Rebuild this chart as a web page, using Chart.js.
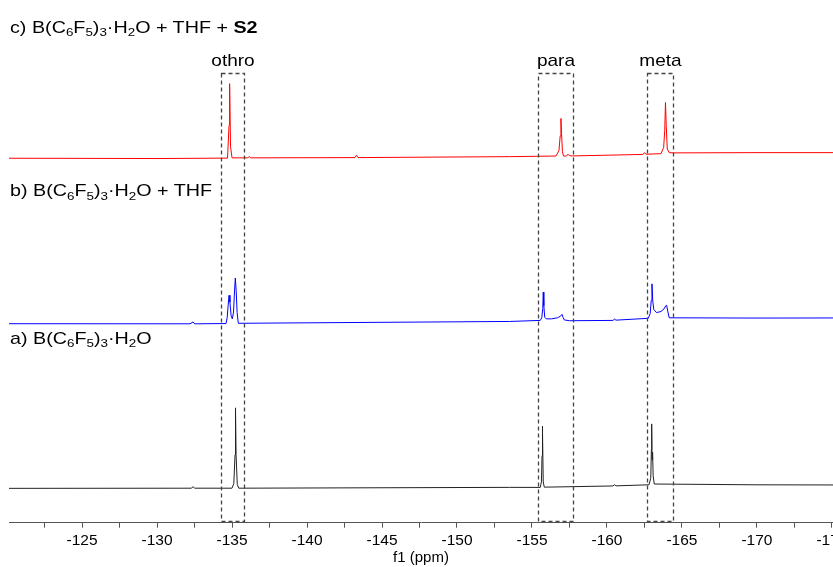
<!DOCTYPE html>
<html>
<head>
<meta charset="utf-8">
<script src="https://cdn.jsdelivr.net/npm/chart.js@4"></script>
<style>
  body { margin: 0; background: #fff; overflow: hidden; }
  #wrap { position: relative; width: 833px; height: 567px; }
  .lbl {
    position: absolute; left: 10px;
    font: 17px "Liberation Sans", Arial, sans-serif; line-height: 1;
    transform: scaleX(1.16); transform-origin: left center;
    white-space: nowrap; color: #000;
  }
  .lbl sub { font-size: 0.68em; vertical-align: baseline; position: relative; top: 0.3em; line-height: 0; }
</style>
</head>
<body>
<div id="wrap">
  <canvas id="nmr" width="833" height="567"></canvas>
  <div class="lbl" style="top:18.6px">c) B(C<sub>6</sub>F<sub>5</sub>)<sub>3</sub>·H<sub>2</sub>O + THF + <b>S2</b></div>
  <div class="lbl" style="top:182.3px">b) B(C<sub>6</sub>F<sub>5</sub>)<sub>3</sub>·H<sub>2</sub>O + THF</div>
  <div class="lbl" style="top:329.6px">a) B(C<sub>6</sub>F<sub>5</sub>)<sub>3</sub>·H<sub>2</sub>O</div>
</div>
<script>
// traces (ppm, stacked intensity)
const redPpm = [-120.1, -130.0, -134.7, -134.8, -134.84, -134.9, -135.0, -136.05, -136.15, -136.25,
  -143.2, -143.3, -143.4, -153.5, -156.6, -156.8, -156.88, -156.93, -156.97, -157.03, -157.1,
  -157.3, -157.4, -157.5, -157.7, -162.2, -162.4, -162.5, -162.6, -163.6, -163.78, -163.85,
  -163.9, -163.95, -164.02, -164.15, -164.4, -170.0, -175.1];
const redInt = [69.73, 69.67, 69.75, 76, 84.0, 72, 69.8, 69.8, 70.05, 69.8,
  69.85, 70.3, 69.85, 70.03, 70.15, 71.2, 74.0, 77.34, 74.5, 71.0, 70.15,
  70.15, 70.5, 70.2, 70.17, 70.44, 70.45, 70.8, 70.5, 70.6, 71.8, 75.0,
  80.4, 76.0, 71.5, 70.8, 70.75, 70.8, 70.8];

const bluePpm = [-120.1, -132.2, -132.4, -132.5, -134.6, -134.68, -134.74, -134.8, -134.86, -134.94,
  -135.02, -135.1, -135.17, -135.22, -135.28, -135.34, -135.42, -153.5, -155.55, -155.65, -155.72,
  -155.75, -155.79, -155.85, -155.95, -156.3, -156.7, -156.9, -157.0, -157.07, -157.15, -157.5,
  -160.4, -160.5, -160.6, -162.75, -162.88, -162.95, -163.0, -163.05, -163.12, -163.3, -163.6,
  -163.8, -163.92, -163.98, -164.05, -164.15, -170.0, -175.1];
const blueInt = [38.07, 38.05, 38.4, 38.05, 38.1, 39.3, 41.5, 43.5, 42.2, 39.6,
  39.0, 40.3, 44.5, 46.8, 44.2, 40.2, 38.15, 38.5, 38.7, 39.2, 41,
  44.1, 41.5, 39.3, 39.0, 39.0, 39.2, 39.5, 39.85, 39.3, 38.8, 38.64,
  38.7, 38.95, 38.75, 39.1, 40, 42.5, 45.7, 42.5, 40.8, 40.2, 40.4,
  40.9, 41.5, 41.6, 40.5, 39.2, 39.15, 39.17];

const blackPpm = [-120.1, -132.3, -132.4, -132.5, -135.0, -135.12, -135.2, -135.22, -135.235, -135.245,
  -135.27, -135.35, -135.45, -153.5, -155.55, -155.63, -155.67, -155.69, -155.7, -155.71, -155.75,
  -155.82, -160.4, -160.5, -160.6, -162.8, -162.92, -162.96, -162.98, -163.01, -163.04, -163.08,
  -163.15, -170.0, -175.1];
const blackInt = [6.57, 6.6, 6.9, 6.6, 6.6, 7.5, 13, 21.97, 13, 21.5,
  13, 7.3, 6.6, 6.76, 6.75, 7.8, 12.8, 18.45, 12.8, 17.5, 7.8,
  6.8, 7.03, 7.28, 7.05, 7.25, 8.5, 14, 18.9, 12, 13.5, 9,
  7.4, 7.25, 7.22];

const boxNames = ["othro", "para", "meta"];
const boxFrom = [-134.27, -155.38, -162.69];
const boxTo = [-135.78, -157.75, -164.37];
const boxTop = 86.0;

const xMin = -175.07, xMax = -120.13;

function pts(ppm, val) {
  return ppm.map((p, i) => ({ x: p, y: val[i] }));
}

const boxPlugin = {
  id: "boxes",
  afterDatasetsDraw(chart) {
    const { ctx, scales: { x, y } } = chart;
    ctx.save();
    boxNames.forEach((name, i) => {
      const x1 = Math.round(x.getPixelForValue(boxFrom[i])) + 0.5;
      const x2 = Math.round(x.getPixelForValue(boxTo[i])) + 0.5;
      const top = Math.round(y.getPixelForValue(boxTop)) + 0.5;
      const bottom = Math.round(y.getPixelForValue(0)) - 1.5;
      ctx.strokeStyle = "#444";
      ctx.lineWidth = 1.3;
      ctx.setLineDash([4, 3]);
      ctx.strokeRect(x1, top, x2 - x1, bottom - top);
      ctx.setLineDash([]);
      ctx.fillStyle = "#000";
      ctx.font = '17px "Liberation Sans", Arial, sans-serif';
      ctx.textAlign = "center";
      ctx.textBaseline = "alphabetic";
      ctx.save();
      ctx.translate((x1 + x2) / 2, top - 8);
      ctx.scale(1.12, 1);
      ctx.fillText(name, 0, 0);
      ctx.restore();
    });
    ctx.restore();
  }
};

new Chart(document.getElementById("nmr"), {
  type: "line",
  data: {
    datasets: [
      { data: pts(redPpm, redInt), borderColor: "#ff0000" },
      { data: pts(bluePpm, blueInt), borderColor: "#0000ff" },
      { data: pts(blackPpm, blackInt), borderColor: "#222222" }
    ]
  },
  options: {
    responsive: false,
    animation: false,
    devicePixelRatio: 1,
    layout: { padding: { left: 9, right: 0, top: 0, bottom: 0 } },
    elements: { point: { radius: 0 }, line: { borderWidth: 1, tension: 0 } },
    plugins: { legend: { display: false }, tooltip: { enabled: false } },
    scales: {
      x: {
        type: "linear", reverse: true, min: xMin, max: xMax,
        afterFit: s => { s.paddingLeft = 0; s.paddingRight = 0; },
        border: { color: "#555", width: 1 },
        grid: { drawOnChartArea: false, drawTicks: true, tickLength: 5, tickColor: "#555" },
        ticks: {
          stepSize: 2.5, includeBounds: false, autoSkip: false, maxRotation: 0, padding: 4,
          color: "#000", font: { family: '"Liberation Sans", Arial, sans-serif', size: 15.5 },
          callback: v => (v % 5 === 0 ? String(v) : "")
        },
        title: {
          display: true, text: "f1 (ppm)", color: "#000",
          font: { family: '"Liberation Sans", Arial, sans-serif', size: 15 },
          padding: { top: -5.5, bottom: 0.2 }
        }
      },
      y: { display: false, min: 0, max: 100 }
    }
  },
  plugins: [boxPlugin]
});
</script>
</body>
</html>
